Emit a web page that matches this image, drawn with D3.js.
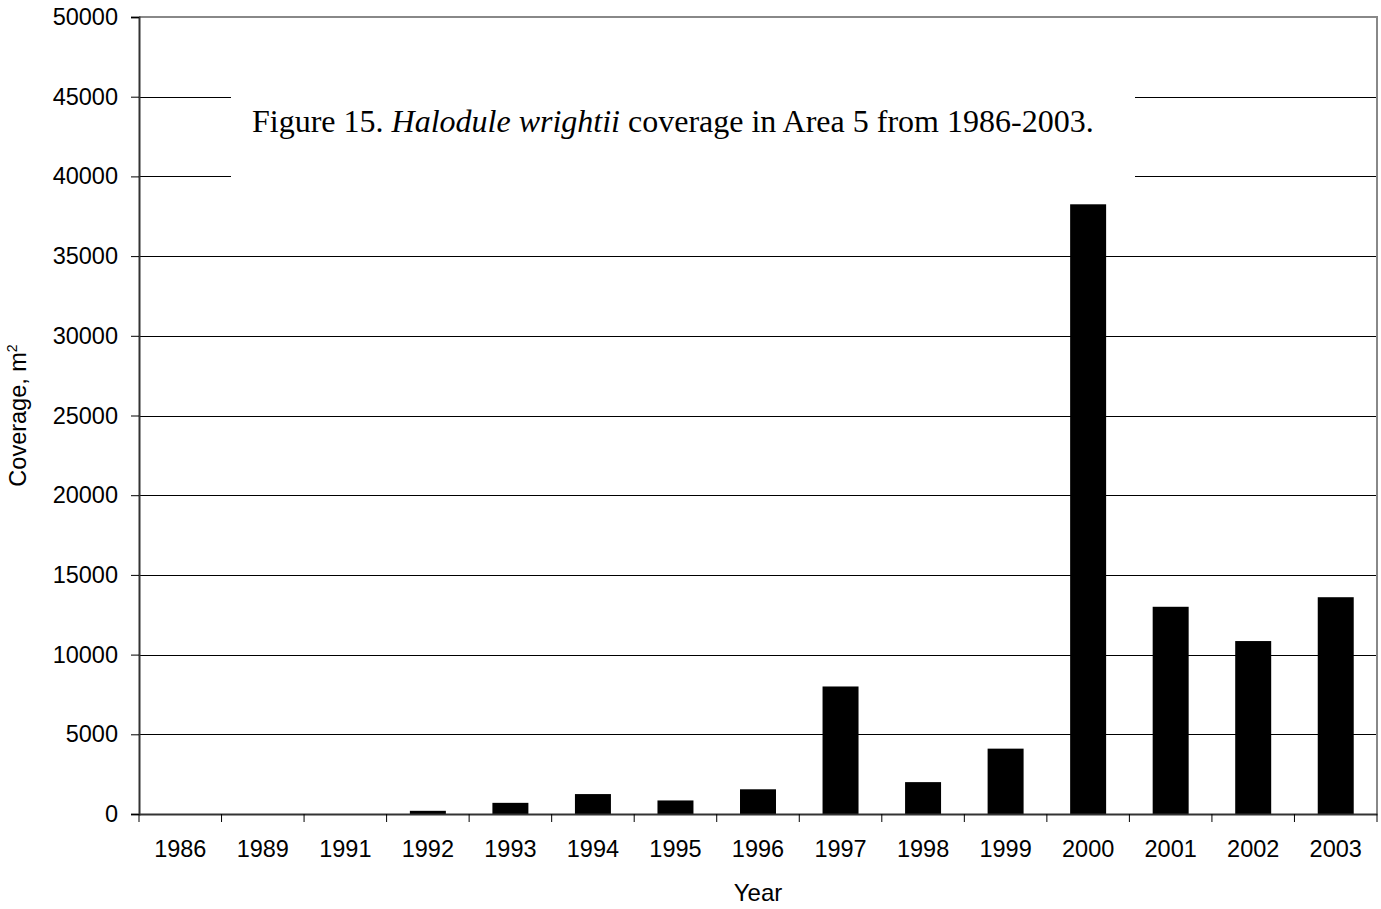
<!DOCTYPE html>
<html>
<head>
<meta charset="utf-8">
<script src="https://cdn.jsdelivr.net/npm/d3@7"></script>
<style>
  html, body { margin: 0; padding: 0; background: #fff; }
  svg { display: block; }
</style>
</head>
<body>
<svg id="chart" width="1381" height="909"></svg>
<script>
const years = ["1986","1989","1991","1992","1993","1994","1995","1996","1997","1998","1999","2000","2001","2002","2003"];
const coverage = [0, 0, 0, 200, 700, 1250, 850, 1550, 8000, 2000, 4100, 38250, 13000, 10850, 13600];
const yTicks = [0, 5000, 10000, 15000, 20000, 25000, 30000, 35000, 40000, 45000, 50000];
const titleParts = [
  {text: "Figure 15. ", italic: false},
  {text: "Halodule wrightii", italic: true},
  {text: " coverage in Area 5 from 1986-2003.", italic: false}
];
const xTitle = "Year";
const yTitle = "Coverage, m";
const yTitleSup = "2";

const svg = d3.select("#chart");
const m = {left: 139, right: 1377, top: 17, bottom: 814};

const x = d3.scaleBand().domain(years).range([m.left, m.right]).paddingInner(0.564).paddingOuter(0.282);
const y = d3.scaleLinear().domain([0, 50000]).range([m.bottom, m.top]);

// gridlines
svg.append("g").selectAll("line").data(yTicks.filter(d => d > 0 && d < 50000)).join("line")
  .attr("x1", m.left).attr("x2", m.right)
  .attr("y1", d => Math.round(y(d)) + 0.5).attr("y2", d => Math.round(y(d)) + 0.5)
  .attr("stroke", "#000").attr("stroke-width", 1);

// plot border (top and right gray)
svg.append("path")
  .attr("d", `M${m.left},${m.top} H${m.right} V${m.bottom}`)
  .attr("fill", "none").attr("stroke", "#888").attr("stroke-width", 2);

// title box
svg.append("rect").attr("x", 231).attr("y", 60).attr("width", 1135 - 231).attr("height", 130).attr("fill", "#fff");
const tt = svg.append("text").attr("x", 252).attr("y", 132)
  .attr("font-family", "'Liberation Serif', 'Times New Roman', serif").attr("font-size", 32).attr("fill", "#000");
titleParts.forEach(p => tt.append("tspan").text(p.text).attr("font-style", p.italic ? "italic" : "normal"));

// bars
svg.append("g").selectAll("rect").data(years).join("rect")
  .attr("x", d => x(d)).attr("width", x.bandwidth())
  .attr("y", (d, i) => y(coverage[i])).attr("height", (d, i) => y(0) - y(coverage[i]))
  .attr("fill", "#000");

// y axis
const yAxis = d3.axisLeft(y).tickValues(yTicks).tickSize(8).tickPadding(13).tickFormat(d3.format("d"));
const gy = svg.append("g").attr("transform", `translate(${m.left},0)`).call(yAxis);
gy.select(".domain").attr("stroke", "#333").attr("stroke-width", 2);
gy.selectAll(".tick line").attr("stroke", "#000");
gy.selectAll(".tick text").attr("font-family", "Arial, 'Liberation Sans', sans-serif").attr("font-size", 23.5).attr("fill", "#000");

// x axis
const xAxis = d3.axisBottom(x).tickSize(0).tickPadding(38);
const gx = svg.append("g").attr("transform", `translate(0,${m.bottom})`).call(xAxis);
gx.select(".domain").attr("stroke", "#333").attr("stroke-width", 2);
gx.selectAll(".tick text").attr("font-family", "Arial, 'Liberation Sans', sans-serif").attr("font-size", 23.5).attr("fill", "#000").attr("dy", "0.2em");
// category boundary ticks
const step = x.step();
const bounds = d3.range(years.length + 1).map(i => m.left + i * step);
svg.append("g").selectAll("line").data(bounds).join("line")
  .attr("x1", d => d).attr("x2", d => d)
  .attr("y1", m.bottom).attr("y2", m.bottom + 8)
  .attr("stroke", "#000").attr("stroke-width", 1);

// axis titles
svg.append("text").attr("x", (m.left + m.right) / 2).attr("y", 901).attr("text-anchor", "middle")
  .attr("font-family", "Arial, 'Liberation Sans', sans-serif").attr("font-size", 24).text(xTitle);
const yt = svg.append("text").attr("transform", `translate(26,${(m.top + m.bottom) / 2}) rotate(-90)`)
  .attr("text-anchor", "middle").attr("font-family", "Arial, 'Liberation Sans', sans-serif").attr("font-size", 23.5);
yt.append("tspan").text(yTitle);
yt.append("tspan").text(yTitleSup).attr("font-size", 14).attr("dy", -9);
</script>
</body>
</html>
